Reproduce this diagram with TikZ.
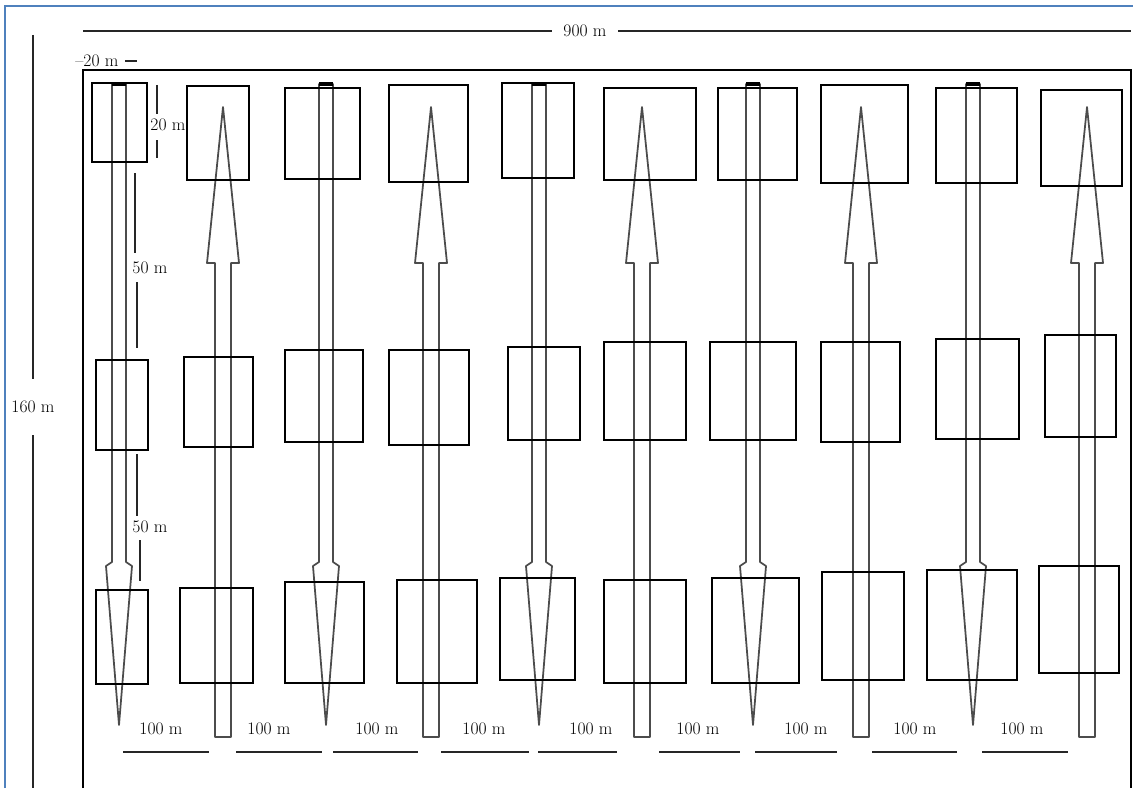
\documentclass[tikz,border=0pt]{standalone}
\usepackage{tikz}
\usetikzlibrary{positioning}
\definecolor{frameblue}{RGB}{79,129,189}

\begin{document}
\begin{tikzpicture}[
      x=0.03cm, y=-0.03cm,
      plot/.style={draw, line width=2.1pt},
      lane/.style={draw=black!70, line width=1.5pt, line join=round},
      dimline/.style={line width=2.3pt, black!85},
      tick/.style={line width=2pt, black!85},
      lbl/.style={font=\fontsize{15}{17}\selectfont, inner sep=1pt}
    ]
    \useasboundingbox (0,0) rectangle (1133,788);
    \draw[frameblue, line width=2.2pt] (5,788) -- (5,6) -- (1133,6);
    \draw[line width=2pt] (83,788) -- (83,70) -- (1131,70) -- (1131,788);

    % overall sizes
    \coordinate (wl) at (83,31);
    \coordinate (wr) at (1131,31);
    \node[lbl, inner xsep=10pt] (w) at (585,31) {900 m};
    \draw[dimline] (wl) -- (w) -- (wr);

    \coordinate (ht) at (33,35);
    \coordinate (hb) at (33,788);
    \node[lbl, inner ysep=19pt] (h) at (33,407) {160 m};
    \draw[tick] (ht) -- (h) -- (hb);

    \node[lbl, anchor=west] (s) at (74,61) {--20 m};
    \draw[tick] (125,61) -- (137,61);

    % lanes, down / up
    \draw[lane, shift={(119,0)}] (-7,84) -- (-7,562) -- (-13,566) -- (0,725) -- (13,566) -- (7,562) -- (7,84) -- cycle;
    \draw[lane, shift={(326,0)}] (-7,84) -- (-7,562) -- (-13,566) -- (0,725) -- (13,566) -- (7,562) -- (7,84) -- cycle;
    \draw[lane, shift={(539,0)}] (-7,84) -- (-7,562) -- (-13,566) -- (0,725) -- (13,566) -- (7,562) -- (7,84) -- cycle;
    \draw[lane, shift={(753,0)}] (-7,84) -- (-7,562) -- (-13,566) -- (0,725) -- (13,566) -- (7,562) -- (7,84) -- cycle;
    \draw[lane, shift={(973,0)}] (-7,84) -- (-7,562) -- (-13,566) -- (0,725) -- (13,566) -- (7,562) -- (7,84) -- cycle;
    \draw[line width=2.8pt] (112,84) -- (126,84) (319,84) -- (333,84) (532,84) -- (546,84)
      (746,84) -- (760,84) (966,84) -- (980,84);

    \draw[lane, shift={(223,0)}] (0,107) -- (16,263) -- (8,263) -- (8,737) -- (-8,737) -- (-8,263) -- (-16,263) -- cycle;
    \draw[lane, shift={(431,0)}] (0,107) -- (16,263) -- (8,263) -- (8,737) -- (-8,737) -- (-8,263) -- (-16,263) -- cycle;
    \draw[lane, shift={(642,0)}] (0,107) -- (16,263) -- (8,263) -- (8,737) -- (-8,737) -- (-8,263) -- (-16,263) -- cycle;
    \draw[lane, shift={(861,0)}] (0,107) -- (16,263) -- (8,263) -- (8,737) -- (-8,737) -- (-8,263) -- (-16,263) -- cycle;
    \draw[lane, shift={(1087,0)}] (0,107) -- (16,263) -- (8,263) -- (8,737) -- (-8,737) -- (-8,263) -- (-16,263) -- cycle;

    % plots: top, middle, bottom row
    \draw[plot] (92,83) rectangle (147,162);
    \draw[plot] (187,86) rectangle (249,180);
    \draw[plot] (285,88) rectangle (360,179);
    \draw[plot] (389,85) rectangle (468,182);
    \draw[plot] (502,83) rectangle (574,178);
    \draw[plot] (604,88) rectangle (696,180);
    \draw[plot] (718,88) rectangle (797,180);
    \draw[plot] (821,85) rectangle (908,183);
    \draw[plot] (936,88) rectangle (1017,183);
    \draw[plot] (1041,90) rectangle (1122,186);

    \draw[plot] (96,360) rectangle (148,450);
    \draw[plot] (184,357) rectangle (253,447);
    \draw[plot] (285,350) rectangle (363,442);
    \draw[plot] (389,350) rectangle (469,445);
    \draw[plot] (508,347) rectangle (580,440);
    \draw[plot] (604,342) rectangle (686,440);
    \draw[plot] (710,342) rectangle (796,440);
    \draw[plot] (821,342) rectangle (900,442);
    \draw[plot] (936,339) rectangle (1019,439);
    \draw[plot] (1045,335) rectangle (1116,437);

    \draw[plot] (96,590) rectangle (148,684);
    \draw[plot] (180,588) rectangle (253,683);
    \draw[plot] (285,582) rectangle (364,683);
    \draw[plot] (397,580) rectangle (477,683);
    \draw[plot] (500,578) rectangle (575,680);
    \draw[plot] (604,580) rectangle (686,683);
    \draw[plot] (712,578) rectangle (799,683);
    \draw[plot] (822,572) rectangle (904,680);
    \draw[plot] (927,570) rectangle (1017,680);
    \draw[plot] (1039,566) rectangle (1119,673);

    % plot sizes
    \node[lbl] (p) at (168,125) {20 m};
    \draw[tick] (157,85) -- (157,114) (157,140) -- (157,158);
    \node[lbl] (g1) at (150,268) {50 m};
    \draw[tick] (135,173) -- (135,253) (137,282) -- (137,348);
    \node[lbl] (g2) at (150,527) {50 m};
    \draw[tick] (137,454) -- (137,516) (140,540) -- (140,581);

    % spacing between lanes
    \node[lbl] (d1) at (161,729) {100 m};
    \node[lbl] (d2) at (269,729) {100 m};
    \node[lbl] (d3) at (377,729) {100 m};
    \node[lbl] (d4) at (484,729) {100 m};
    \node[lbl] (d5) at (591,729) {100 m};
    \node[lbl] (d6) at (698,729) {100 m};
    \node[lbl] (d7) at (806,729) {100 m};
    \node[lbl] (d8) at (915,729) {100 m};
    \node[lbl] (d9) at (1022,729) {100 m};
    \draw[dimline] (123,752) -- (209,752) (236,752) -- (322,752) (333,752) -- (418,752)
      (441,752) -- (529,752) (538,752) -- (617,752) (659,752) -- (740,752)
      (755,752) -- (837,752) (872,752) -- (957,752) (982,752) -- (1068,752);
  \end{tikzpicture}
\end{document}
